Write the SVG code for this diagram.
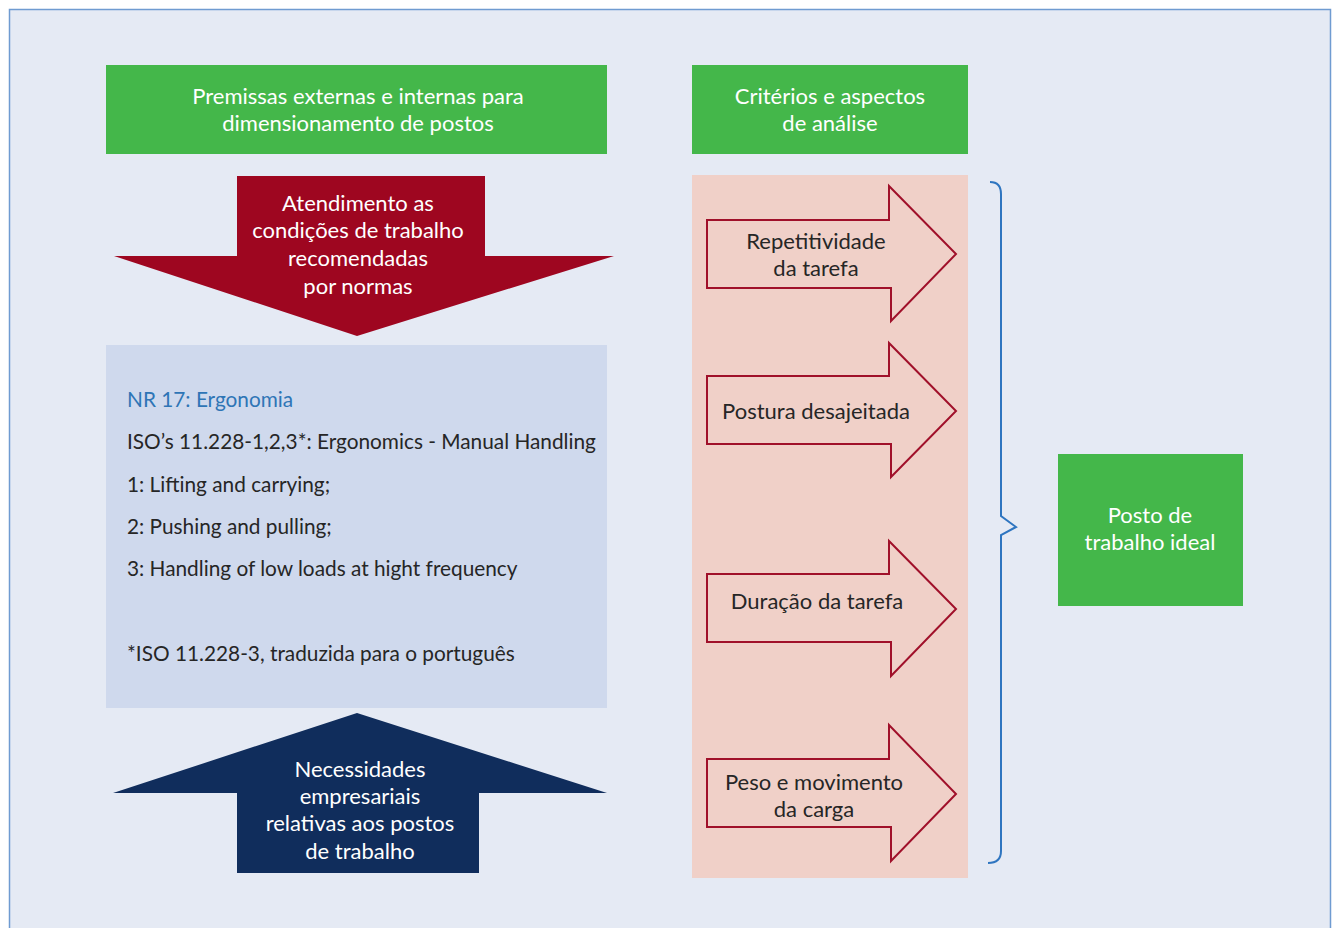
<svg xmlns="http://www.w3.org/2000/svg" width="1336" height="928" viewBox="0 0 1336 928">
<style>
.bg{fill:#e5eaf4;stroke:#6f9bd1;stroke-width:1.5}
.green{fill:#44b74a}
.wt{fill:#ffffff;font-family:Lato,"Open Sans",sans-serif;font-size:22px;text-anchor:middle}
.dk{fill:#262626;font-family:Lato,"Open Sans",sans-serif;font-size:22px;text-anchor:middle}
.bt{fill:#262626;font-family:Lato,"Open Sans",sans-serif;font-size:20.8px}
.arr{fill:#f0d0c8;stroke:#a0102a;stroke-width:2}
</style>
<rect x="0" y="0" width="1336" height="928" fill="#ffffff"/>
<rect class="bg" x="9.5" y="9.5" width="1321" height="930"/>

<g id="header1">
<rect class="green" x="106" y="65" width="501" height="89"/>
<text class="wt" x="358" y="104">Premissas externas e internas para</text>
<text class="wt" x="358" y="131">dimensionamento de postos</text>
</g>

<g id="header2">
<rect class="green" x="692" y="65" width="276" height="89"/>
<text class="wt" x="830" y="104">Critérios e aspectos</text>
<text class="wt" x="830" y="131">de análise</text>
</g>

<g id="down-arrow">
<polygon fill="#9e0620" points="237,176 485,176 485,256 614,256 357,336 114,256 237,256"/>
<text class="wt" x="358" y="211">Atendimento as</text>
<text class="wt" x="358" y="238">condições de trabalho</text>
<text class="wt" x="358" y="266">recomendadas</text>
<text class="wt" x="358" y="294">por normas</text>
</g>

<g id="norms">
<rect x="106" y="345" width="501" height="363" fill="#cfd9ed"/>
<text class="bt" x="127" y="407" style="fill:#2e75b6">NR 17: Ergonomia</text>
<text class="bt" x="127" y="449">ISO’s 11.228-1,2,3*: Ergonomics - Manual Handling</text>
<text class="bt" x="127" y="492">1: Lifting and carrying;</text>
<text class="bt" x="127" y="534">2: Pushing and pulling;</text>
<text class="bt" x="127" y="576">3: Handling of low loads at hight frequency</text>
<text class="bt" x="127" y="661">*ISO 11.228-3, traduzida para o português</text>
</g>

<g id="up-arrow">
<polygon fill="#102d5c" points="357,713 607,793 479,793 479,873 237,873 237,793 113,793"/>
<text class="wt" x="360" y="777">Necessidades</text>
<text class="wt" x="360" y="804">empresariais</text>
<text class="wt" x="360" y="831">relativas aos postos</text>
<text class="wt" x="360" y="859">de trabalho</text>
</g>

<g id="criteria-panel">
<rect x="692" y="175" width="276" height="703" fill="#f0d0c8"/>
</g>

<g id="crit1">
<polygon class="arr" points="707,220 889,220 889,186 956,254 891,321 891,288 707,288"/>
<text class="dk" x="816" y="249">Repetitividade</text>
<text class="dk" x="816" y="276">da tarefa</text>
</g>
<g id="crit2">
<polygon class="arr" points="707,376 889,376 889,343 956,411 891,477 891,444 707,444"/>
<text class="dk" x="816" y="419">Postura desajeitada</text>
</g>
<g id="crit3">
<polygon class="arr" points="707,574 889,574 889,541 956,609 891,676 891,642 707,642"/>
<text class="dk" x="817" y="609">Duração da tarefa</text>
</g>
<g id="crit4">
<polygon class="arr" points="707,759 889,759 889,725 956,794 891,861 891,827 707,827"/>
<text class="dk" x="814" y="790">Peso e movimento</text>
<text class="dk" x="814" y="817">da carga</text>
</g>

<g id="connectors">
<path d="M990,182 Q1001,182 1001,194 L1001,516 L1016,527 L1001,535 L1001,851 Q1001,863 988,863" fill="none" stroke="#2e75c0" stroke-width="2"/>
</g>

<g id="result">
<rect class="green" x="1058" y="454" width="185" height="152"/>
<text class="wt" x="1150" y="523">Posto de</text>
<text class="wt" x="1150" y="550">trabalho ideal</text>
</g>
</svg>
